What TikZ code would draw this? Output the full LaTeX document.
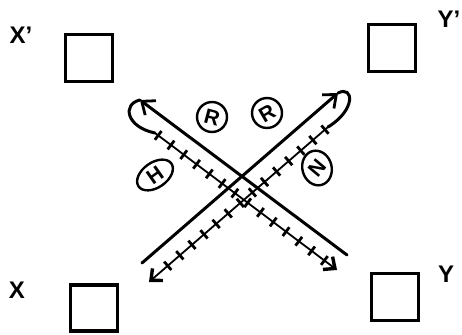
\documentclass[tikz,border=0pt]{standalone}
\usepackage{fontspec}
\setmainfont{Liberation Sans}
\usetikzlibrary{arrows.meta,shapes.geometric,decorations.markings}
\begin{document}
\begin{tikzpicture}[x=1pt,y=-1pt,
  box/.style={draw,line width=3.2pt,minimum width=47pt,minimum height=47pt,inner sep=0pt},
  lbl/.style={font=\fontsize{24}{24}\selectfont\bfseries},
  main/.style={line width=3pt,line cap=round},
  barb/.style={-{Straight Barb[length=11pt,width=18pt,line width=2.8pt]}},
  hatch/.style={line width=1.8pt,
    postaction={decorate,decoration={markings,
      mark=between positions 4pt and -14pt step 16pt with {\draw[-,line width=2.8pt] (0pt,-5.5pt) -- (0pt,5.5pt);}}}},
  hbarb/.style={-{Straight Barb[length=9pt,width=16pt,line width=3.4pt]}},
  tag/.style={draw,line width=2.4pt,inner sep=0pt,font=\fontsize{21}{21}\selectfont\bfseries}
]
\useasboundingbox (0,0) rectangle (462,334);
% boxes and labels
\node[box] (bxp) at (89,58) {};
\node[box] (byp) at (392,48) {};
\node[box,minimum height=46pt] (bx) at (94,308) {};
\node[box] (by) at (395,297) {};
\node[lbl] (lxp) at (21,35) {X'};
\node[lbl] (lyp) at (449,19) {Y'};
\node[lbl] (lx) at (17,290) {X};
\node[lbl] (ly) at (446,274) {Y};
% path A (NW arrow, loop, hatched to SE)
\coordinate (a1) at (347,255);
\coordinate (a2) at (140,100);
\coordinate (a3) at (155,133);
\coordinate (a4) at (337,270);
\draw[main,barb] (a1) -- (a2);
\draw[main] (a2) .. controls (122,104) and (126,127) .. (a3);
\draw[hatch,hbarb] (a3) -- (a4);
% path B (NE arrow, loop, hatched to SW)
\coordinate (b1) at (142,263);
\coordinate (b2) at (338,93);
\coordinate (b3) at (328,127);
\coordinate (b4) at (149,282);
\draw[main,barb] (b1) -- (b2);
\draw[main] (b2) .. controls (354,85) and (356,110) .. (b3);
\draw[hatch,hbarb] (b3) -- (b4);
% tags
\node[tag,circle,minimum size=30pt,rotate=-15] (r1) at (212,117) {R};
\node[tag,circle,minimum size=30pt,rotate=30] (r2) at (267,113) {R};
\node[tag,ellipse,minimum width=40pt,minimum height=25pt,rotate=35] (h1) at (155,175) {H};
\node[tag,ellipse,minimum width=25pt,minimum height=35pt,rotate=15] (n1) at (317,168) {\rotatebox{35}{N}};
\end{tikzpicture}
\end{document}
